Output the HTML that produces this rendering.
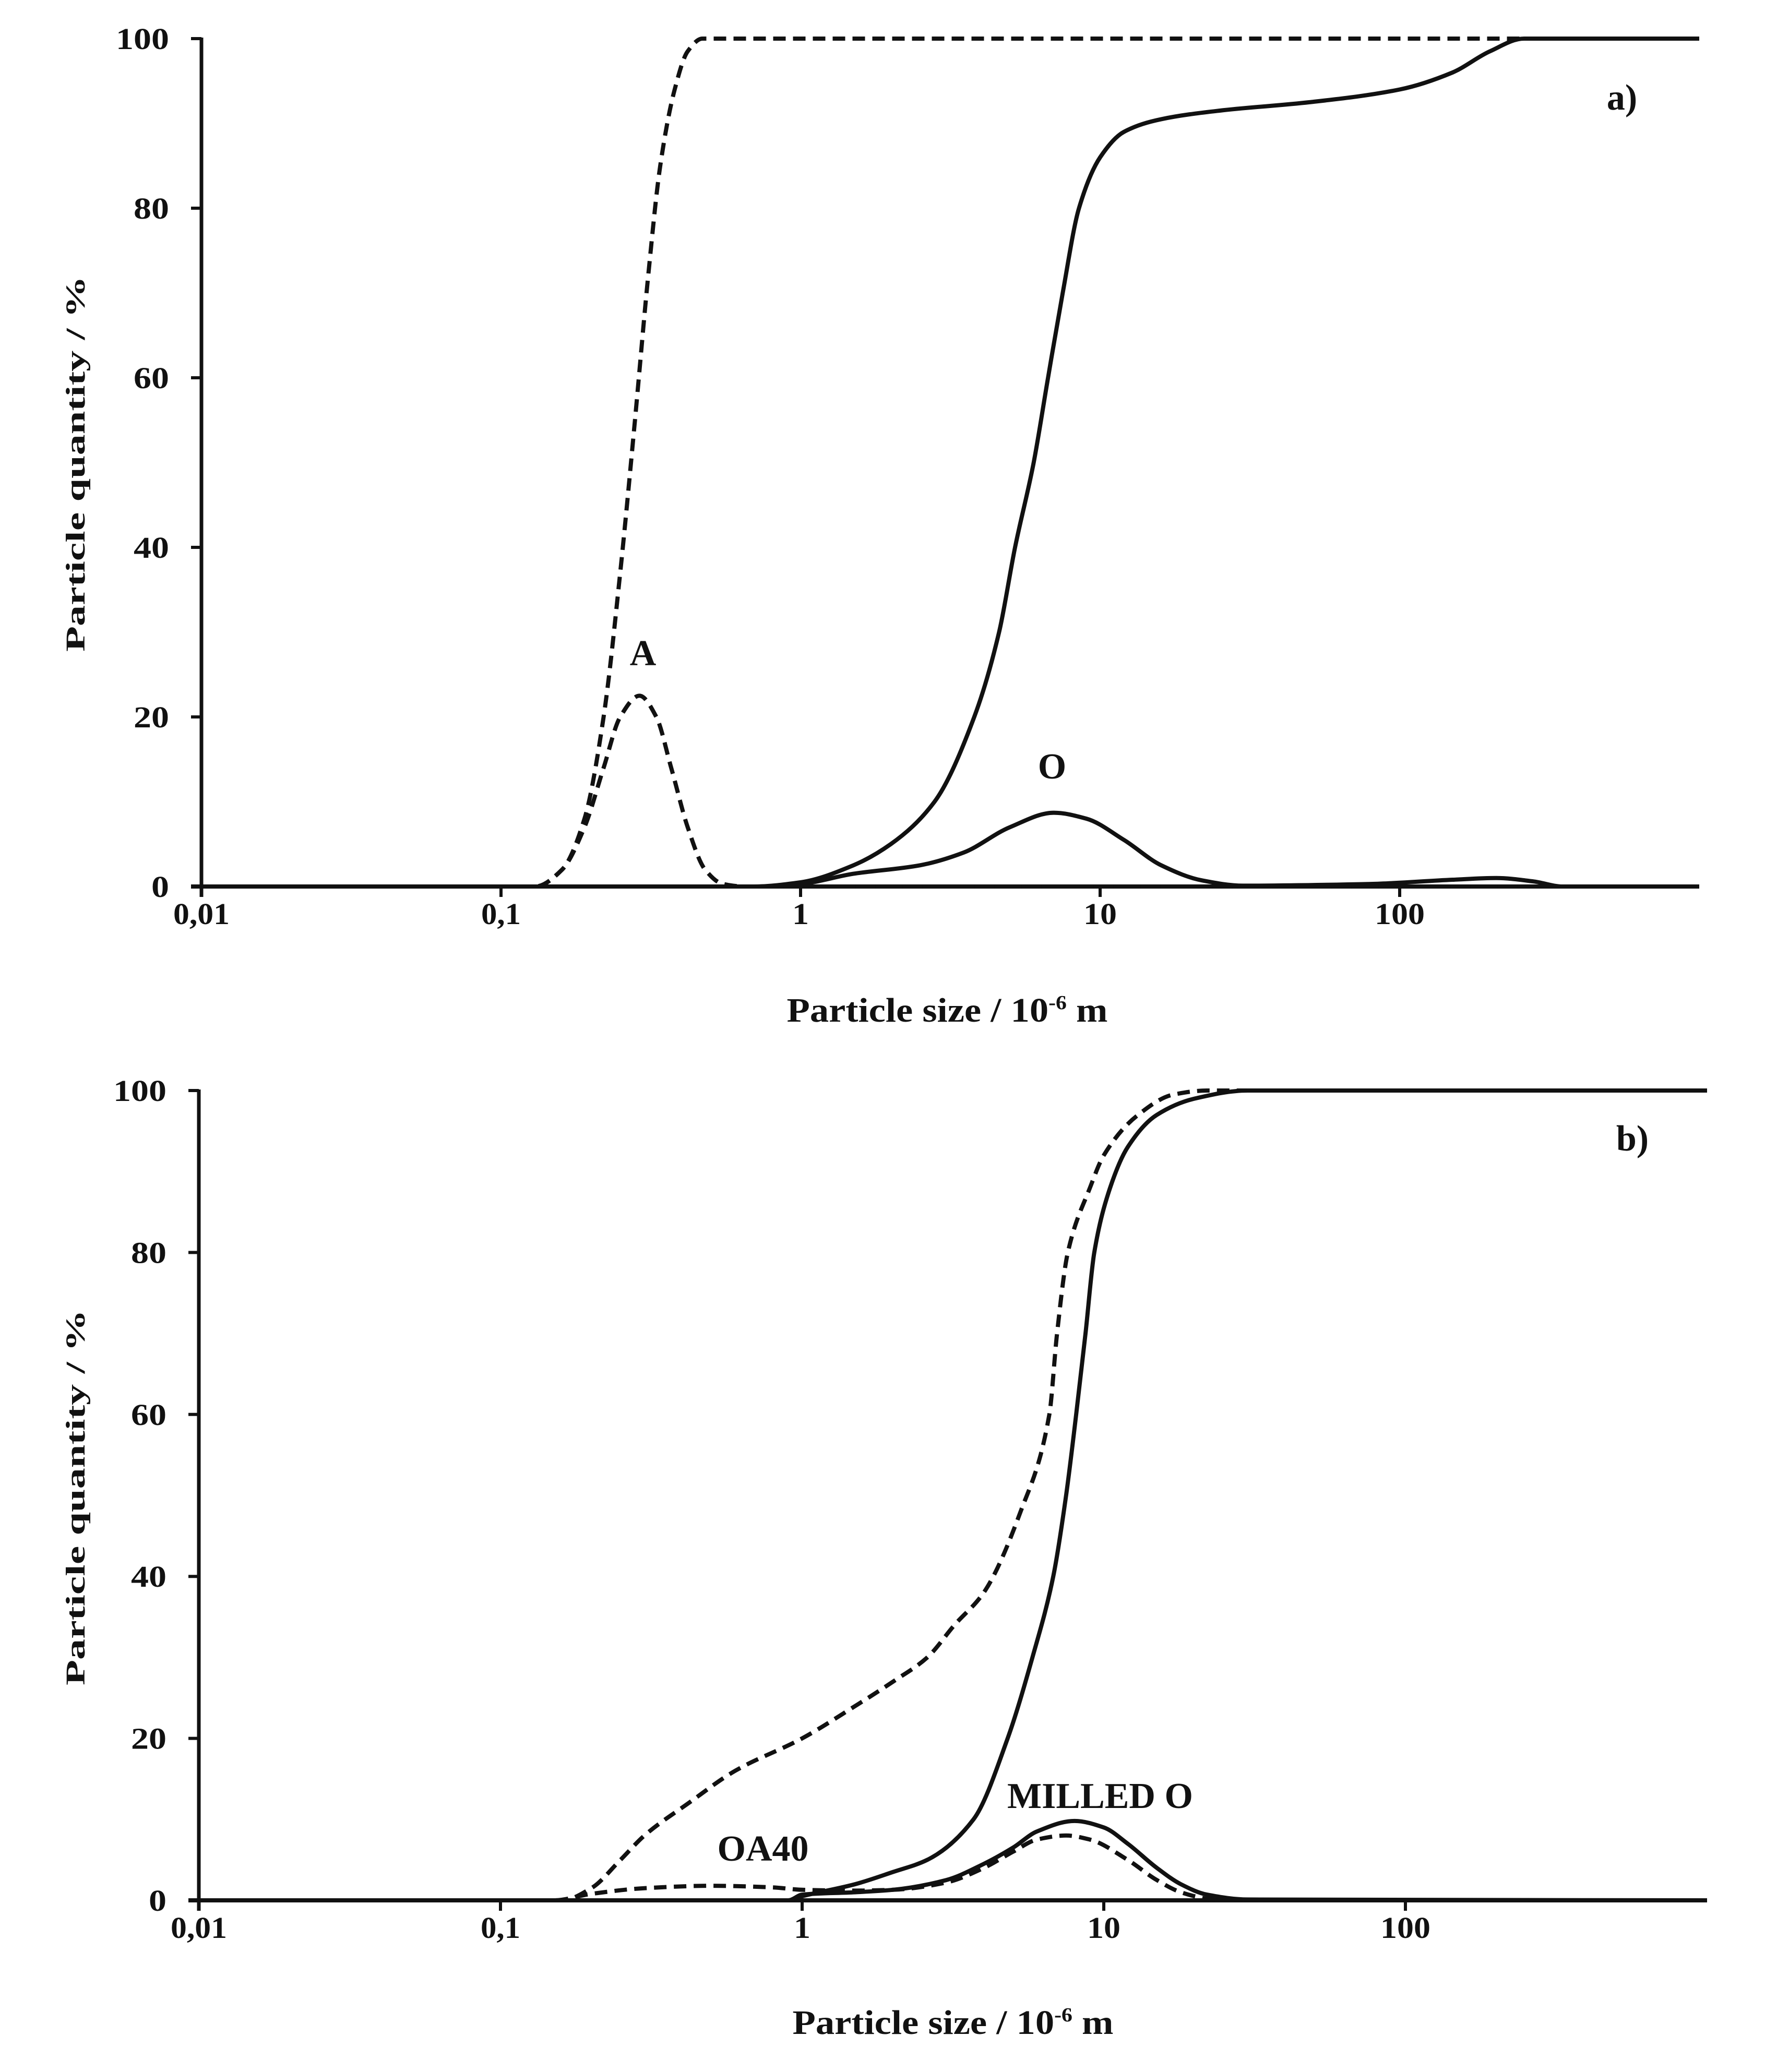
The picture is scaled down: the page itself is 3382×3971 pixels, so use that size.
<!DOCTYPE html>
<html><head><meta charset="utf-8"><style>
html,body{margin:0;padding:0;background:#fff}
svg{display:block}
text{font-family:"Liberation Serif",serif;font-weight:bold;fill:#111}
</style></head><body>
<svg id="chart" width="3382" height="3971" viewBox="0 0 3382 3971" xmlns="http://www.w3.org/2000/svg"></svg>
<script>
// ---- Data (x in micrometers, y in %) ----
const xTickValues = [0.01, 0.1, 1, 10, 100];
const xTickLabels = ["0,01", "0,1", "1", "10", "100"];
const yTickValues = [0, 20, 40, 60, 80, 100];
const yTickLabels = ["0", "20", "40", "60", "80", "100"];

// Panel a
const aCumX = [0.01,0.13,0.16,0.19,0.22,0.25,0.28,0.31,0.34,0.38,0.42,0.47,1000];
const aCumY = [0,0,2,8,20,37,55,72,85,94,98.5,100,100];
const aFreqX = [0.01,0.13,0.16,0.19,0.22,0.25,0.29,0.33,0.37,0.42,0.48,0.55,0.65,1000];
const aFreqY = [0,0,2,7,14,20,22.5,20,14,7,2,0.3,0,0];
const oCumX = [0.01,0.7,1,1.5,2,2.8,3.8,4.6,5.2,6,6.7,7.5,8.5,10,12,16,25,50,100,150,200,260,1000];
const oCumY = [0,0,0.5,2.5,5,10,20,30,40,50,60,70,80,86,89,90.5,91.5,92.5,94,96,98.5,100,100];
const oFreqX = [0.01,0.7,1,1.5,2.5,3.5,5,7,9,12,16,22,30,80,150,210,280,350,1000];
const oFreqY = [0,0,0.3,1.5,2.5,4,7,8.7,8,5.5,2.5,0.7,0.1,0.3,0.8,1,0.6,0,0];

// Panel b
const oa40CumX = [0.01,0.16,0.2,0.25,0.3,0.42,0.6,1,1.5,2,2.6,3.2,4,5.3,6.6,7,7.6,9,10,13,17,22,1000];
const oa40CumY = [0,0,1.5,5,8,12,16,20,24,27,30,34,38,48,60,70,80,88,92,97,99.5,100,100];
const milledCumX = [0.01,0.9,1,1.5,2,2.6,3.7,4.8,5.8,6.8,7.5,8.1,8.7,9.3,10.5,12,15,20,30,1000];
const milledCumY = [0,0,0.5,2,3.5,5,10,20,30,40,50,60,70,80,88,93,97,99,100,100];
const milledFreqX = [0.01,0.9,1,1.5,2,3,4,5,6,8,10,12,15,18,22,30,1000];
const milledFreqY = [0,0,0.7,1,1.3,2.5,4.5,6.5,8.5,9.8,9,7,4,2,0.7,0.1,0];
const oa40FreqX = [0.01,0.15,0.2,0.3,0.5,0.8,1,1.5,2,3,4,5,6,7.5,9,12,15,18,22,25,1000];
const oa40FreqY = [0,0,0.8,1.5,1.8,1.6,1.3,1.2,1.3,2.2,4,6,7.5,8,7.5,5,2.5,1,0.2,0,0];

const NS = "http://www.w3.org/2000/svg";
const svg = document.getElementById("chart");

function mk(tag, attrs, parent) {
  const e = document.createElementNS(NS, tag);
  for (const k in attrs) e.setAttribute(k, attrs[k]);
  (parent || svg).appendChild(e);
  return e;
}

// Monotone cubic (Fritsch-Carlson) path in pixel space
function smoothPath(pts) {
  const n = pts.length;
  const dx = [], m = [];
  for (let i = 0; i < n - 1; i++) {
    dx.push(pts[i + 1][0] - pts[i][0]);
    m.push((pts[i + 1][1] - pts[i][1]) / dx[i]);
  }
  const t = new Array(n);
  t[0] = m[0]; t[n - 1] = m[n - 2];
  for (let i = 1; i < n - 1; i++) {
    if (m[i - 1] * m[i] <= 0) t[i] = 0;
    else t[i] = 3 * (dx[i - 1] + dx[i]) / ((2 * dx[i] + dx[i - 1]) / m[i - 1] + (dx[i] + 2 * dx[i - 1]) / m[i]);
  }
  let d = "M" + pts[0][0].toFixed(1) + "," + pts[0][1].toFixed(1);
  for (let i = 0; i < n - 1; i++) {
    const h = dx[i] / 3;
    d += " C" + (pts[i][0] + h).toFixed(1) + "," + (pts[i][1] + t[i] * h).toFixed(1) + " " +
      (pts[i + 1][0] - h).toFixed(1) + "," + (pts[i + 1][1] - t[i + 1] * h).toFixed(1) + " " +
      pts[i + 1][0].toFixed(1) + "," + pts[i + 1][1].toFixed(1);
  }
  return d;
}

function panel(cfg) {
  const g = mk("g", {});
  
  
  const xs = v => cfg.x0 + (Math.log10(v) + 2) * cfg.dec;
  const ys = v => cfg.y0 - v / 100 * (cfg.y0 - cfg.y100);
  const xEnd = xs(1000);

  const ya = mk("line", {x1: cfg.x0, y1: cfg.y100 - 2, x2: cfg.x0, y2: cfg.y0 + 20, stroke: "#111", "stroke-width": 7}, g);
  
  
  const xa = mk("line", {x1: cfg.x0 - 20, y1: cfg.y0, x2: xEnd, y2: cfg.y0, stroke: "#111", "stroke-width": 8}, g);
  
  

  yTickValues.forEach((v, i) => {
    const y = ys(v);
    const tk = mk("line", {x1: cfg.x0 - 20, y1: y, x2: cfg.x0, y2: y, stroke: "#111", "stroke-width": 6}, g);
    
    
    const lab = yTickLabels[i];
    const t = mk("text", {x: cfg.x0 - 62, y: y + 20, "font-size": 58, "text-anchor": "end", textLength: lab.length * 34, lengthAdjust: "spacingAndGlyphs"}, g);
    t.textContent = lab;
    
    
  });
  xTickValues.forEach((v, i) => {
    const x = xs(v);
    const tk = mk("line", {x1: x, y1: cfg.y0, x2: x, y2: cfg.y0 + 20, stroke: "#111", "stroke-width": 6}, g);
    
    
    const lab = xTickLabels[i];
    const w = lab.replace(",", "").length * 32 + (lab.includes(",") ? 12 : 0);
    const t = mk("text", {x: x, y: cfg.y0 + 72, "font-size": 58, "text-anchor": "middle", textLength: w, lengthAdjust: "spacingAndGlyphs"}, g);
    t.textContent = lab;
    
    
  });

  const xt = mk("text", {x: cfg.xtX, y: cfg.xtY, "font-size": 66, "text-anchor": "middle", textLength: 615, lengthAdjust: "spacingAndGlyphs"}, g);
  xt.innerHTML = 'Particle size / 10<tspan dy="-24" font-size="38">-6</tspan><tspan dy="24"> m</tspan>';
  
  
  const yt = mk("text", {x: 0, y: 0, "font-size": 52, "text-anchor": "middle", textLength: 720, lengthAdjust: "spacingAndGlyphs", transform: "translate(" + cfg.ytX + "," + cfg.ytY + ") rotate(-90)"}, g);
  yt.textContent = "Particle quantity / %";
  
  

  cfg.series.forEach(s => {
    const pts = s.x.map((v, i) => [xs(v), ys(s.y[i])]);
    const p = mk("path", {d: smoothPath(pts), fill: "none", stroke: "#111", "stroke-width": 8, "stroke-linejoin": "round",
      "stroke-dasharray": s.dash ? "24 14" : "none"}, g);
    
    
  });

  cfg.labels.forEach(l => {
    const t = mk("text", {x: l.x, y: l.y, "font-size": l.fs || 70, "text-anchor": "middle"}, g);
    t.textContent = l.t;
    
    
  });
}

panel({
  name: "panel-a", x0: 386, dec: 574, y0: 1699, y100: 74,
  xtX: 1815, xtY: 1958, ytX: 162, ytY: 889,
  series: [
    {name: "a-cumulative-line", x: aCumX, y: aCumY, dash: true},
    {name: "a-frequency-line", x: aFreqX, y: aFreqY, dash: true},
    {name: "o-cumulative-line", x: oCumX, y: oCumY, dash: false},
    {name: "o-frequency-line", x: oFreqX, y: oFreqY, dash: false}
  ],
  labels: [
    {t: "a)", x: 3108, y: 210, name: "panel-a-label"},
    {t: "A", x: 1232, y: 1275, name: "label-a"},
    {t: "O", x: 2016, y: 1492, name: "label-o"}
  ]
});

panel({
  name: "panel-b", x0: 381, dec: 578, y0: 3642, y100: 2090,
  xtX: 1826, xtY: 3898, ytX: 162, ytY: 2870,
  series: [
    {name: "oa40-cumulative-line", x: oa40CumX, y: oa40CumY, dash: true},
    {name: "oa40-frequency-line", x: oa40FreqX, y: oa40FreqY, dash: true},
    {name: "milled-o-cumulative-line", x: milledCumX, y: milledCumY, dash: false},
    {name: "milled-o-frequency-line", x: milledFreqX, y: milledFreqY, dash: false}
  ],
  labels: [
    {t: "b)", x: 3128, y: 2205, name: "panel-b-label"},
    {t: "MILLED O", x: 2108, y: 3465, name: "label-milled-o"},
    {t: "OA40", x: 1462, y: 3566, name: "label-oa40"}
  ]
});
</script>
</body></html>
